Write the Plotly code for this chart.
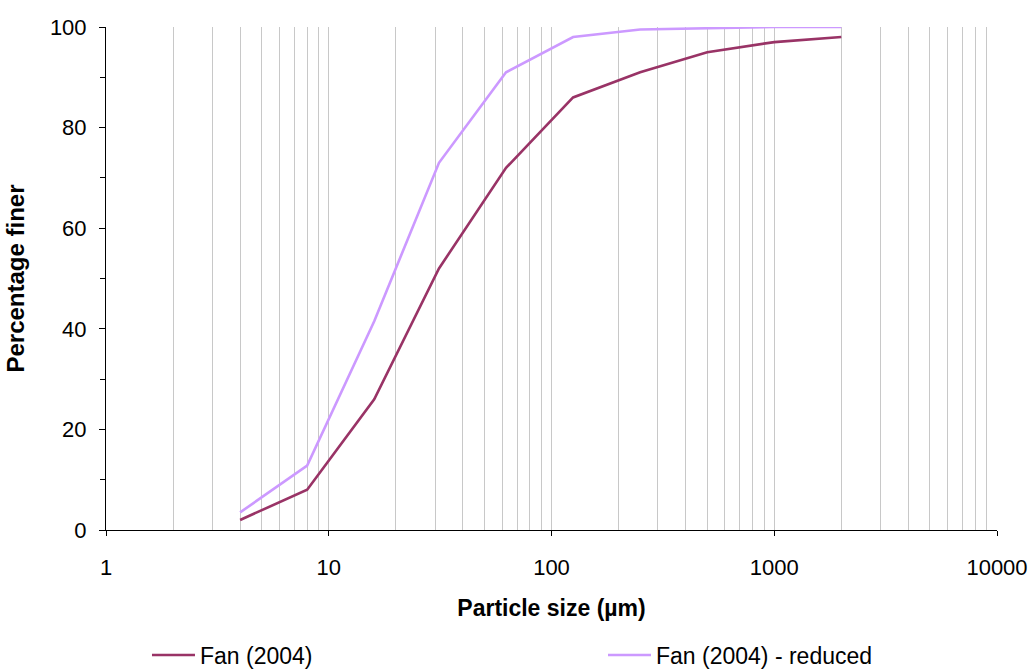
import plotly.graph_objects as go

sizes = [4, 8, 16, 31.25, 62.5, 125, 250, 500, 1000, 2000]
fan = [2, 8, 26, 52, 72, 86, 91, 95, 97, 98]
fan_reduced = [3.5, 12.8, 41.5, 73, 91, 98, 99.5, 99.8, 100, 100]
x_tickvals = [1, 10, 100, 1000, 10000]
x_ticktext = ["1", "10", "100", "1000", "10000"]
y_tickvals = [0, 20, 40, 60, 80, 100]

FONT = "Liberation Sans, Arial, sans-serif"

fig = go.Figure()
fig.add_trace(go.Scatter(x=sizes, y=fan, mode="lines", name="Fan (2004)",
                         line=dict(color="#993366", width=2.6), legend="legend"))
fig.add_trace(go.Scatter(x=sizes, y=fan_reduced, mode="lines", name="Fan (2004) - reduced",
                         line=dict(color="#CC99FF", width=2.6), legend="legend2"))

leg_common = dict(orientation="h", xanchor="left", y=-0.2485, yanchor="middle",
                  itemwidth=43, font=dict(size=23), bgcolor="rgba(0,0,0,0)")

fig.update_layout(
    width=1035, height=669,
    margin=dict(l=106, r=38, t=27, b=139, autoexpand=False),
    paper_bgcolor="white", plot_bgcolor="white",
    font=dict(family=FONT, color="black", size=22),
    showlegend=True,
    legend=dict(x=0.046, **leg_common),
    legend2=dict(x=0.5578, **leg_common),
    xaxis=dict(
        type="log", range=[0, 4], automargin=False,
        tickmode="array", tickvals=x_tickvals, ticktext=x_ticktext,
        ticks="outside", ticklen=5, tickwidth=1, tickcolor="black",
        showline=True, linecolor="black", linewidth=1,
        showgrid=True, gridcolor="#c8c8c8", gridwidth=1,
        minor=dict(dtick="D1", showgrid=True, gridcolor="#c8c8c8", gridwidth=1, ticks=""),
        zeroline=False,
        ticklabelstandoff=13,
        tickfont=dict(size=22),
        title=dict(text="<b>Particle size (µm)</b>", font=dict(size=23), standoff=20),
    ),
    yaxis=dict(
        range=[0, 100], automargin=False,
        tickmode="array", tickvals=y_tickvals,
        ticks="outside", ticklen=6, tickwidth=1, tickcolor="black",
        minor=dict(dtick=10, ticks="outside", ticklen=5, tickcolor="black", tickwidth=1, showgrid=False),
        showline=True, linecolor="black", linewidth=1,
        showgrid=False, zeroline=False,
        ticklabelstandoff=8,
        tickfont=dict(size=22),
        title=dict(text="<b>Percentage finer</b>", font=dict(size=24), standoff=18),
    ),
)

fig.write_html("out.html")
